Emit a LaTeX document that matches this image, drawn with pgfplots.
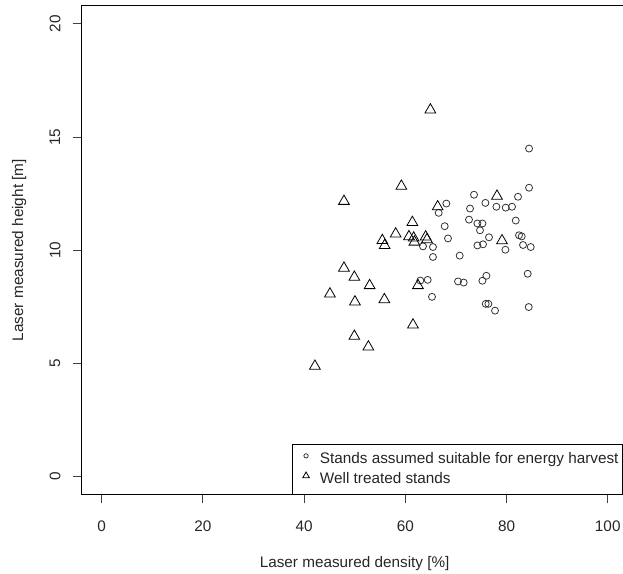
\documentclass[border=0pt]{standalone}
\usepackage{fontspec}
\setmainfont{Liberation Sans}
\usepackage{pgfplots}
\pgfplotsset{compat=1.18}
\begin{document}
\begin{tikzpicture}
\useasboundingbox (-81.3bp,-79.3bp) rectangle (541.7bp,494.7bp);
\begin{axis}[
  at={(0,0)}, anchor=south west,
  scale only axis, width=546.7bp, height=489bp,
  xmin=-4, xmax=104, ymin=-0.8, ymax=20.8,
  xtick={0,20,...,100}, ytick={0,5,...,20},
  xtick pos=bottom, ytick pos=left,
  tick align=outside, major tick length=8.5bp,
  tick style={black!75, line width=0.8bp},
  axis line style={line width=0.9bp},
  font=\fontsize{15.3bp}{18bp}\selectfont,
  /pgf/number format/assume math mode=true,
  ticklabel style={text=black!85},
  xticklabel style={anchor=center, yshift=-22.8bp},
  yticklabel style={xshift=-17.8bp, rotate=90, anchor=center},
  xlabel={Laser measured density [\%]},
  ylabel={Laser measured height [m]},
  xlabel style={at={(axis description cs:0.5,-0.1417)}, anchor=center, text=black!85},
  ylabel style={at={(axis description cs:-0.1136,0.5)}, anchor=center, text=black!85},
  legend style={at={(axis description cs:0.3854,0)}, anchor=south west,
    draw=black, line width=0.9bp, inner xsep=4bp, inner ysep=7.65bp,
    font=\fontsize{15.3bp}{18bp}\selectfont, text=black!85,
    nodes={inner sep=0bp, text height=11bp, text depth=3.5bp},
    row sep=5.4bp},
  legend cell align=left,
  legend image code/.code={\path[draw=none] (0bp,0bp) -- (23.5bp,0bp); \draw[#1, every mark/.append style={scale=0.62}] plot coordinates {(9.6bp,3.5bp)};},
  /tikz/every even column/.append style={column sep=0bp},
  /tikz/every odd column/.append style={column sep=0bp},
]
\addplot[only marks, mark=o, mark size=3.5bp, black!80, mark options={line width=0.8bp}] table {
x y
84.45 14.49
84.45 12.76
73.58 12.45
82.27 12.36
75.83 12.09
68.12 12.06
66.60 11.65
78.00 11.92
79.84 11.88
81.09 11.92
72.79 11.84
72.59 11.35
74.25 11.18
75.24 11.18
74.76 10.88
81.82 11.31
67.79 11.06
63.50 10.17
65.47 10.14
68.44 10.52
65.47 9.70
70.75 9.76
76.54 10.57
74.25 10.21
75.36 10.26
79.78 10.02
82.47 10.66
83.00 10.61
83.26 10.23
84.78 10.14
84.19 8.96
62.98 8.66
64.43 8.69
70.42 8.62
71.54 8.57
75.24 8.65
76.03 8.87
65.28 7.94
75.89 7.63
76.42 7.63
77.73 7.33
84.39 7.49
};
\addlegendentry{\rule{0pt}{16.4bp}Stands assumed suitable for energy harvest\hspace{6bp}}
\addplot[only marks, mark=triangle, mark size=6.2bp, black, mark options={line width=0.8bp}] table {
x y
64.96 16.20
59.23 12.83
47.89 12.16
78.12 12.39
66.40 11.92
61.40 11.23
58.10 10.72
55.47 10.43
55.93 10.21
60.73 10.60
61.66 10.54
61.80 10.36
64.03 10.59
64.29 10.47
79.11 10.42
62.51 8.44
47.89 9.21
49.94 8.81
52.96 8.44
45.12 8.07
50.06 7.72
55.87 7.82
61.52 6.70
49.94 6.20
52.71 5.73
42.15 4.88
};
\addlegendentry{Well treated stands}
\end{axis}
\end{tikzpicture}
\end{document}
